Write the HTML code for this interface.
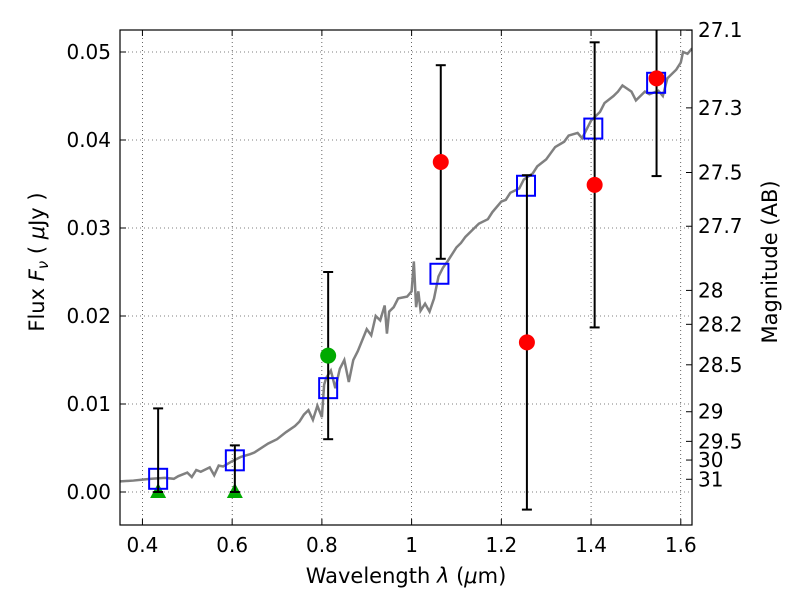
<!DOCTYPE html>
<html><head><meta charset="utf-8"><style>
body{margin:0;background:#fff}
svg{display:block;font-family:"DejaVu Sans","Liberation Sans",sans-serif}
</style></head><body>
<svg id="c" width="800" height="600"><defs><clipPath id="cp"><rect x="120" y="30" width="572" height="495"/></clipPath></defs></svg>
<script>
const specX=[0.35,0.38,0.40,0.42,0.45,0.47,0.48,0.50,0.51,0.52,0.53,0.55,0.56,0.57,0.58,0.60,0.62,0.64,0.65,0.68,0.70,0.72,0.74,0.75,0.76,0.77,0.78,0.79,0.80,0.805,0.81,0.82,0.83,0.84,0.85,0.86,0.87,0.88,0.90,0.91,0.92,0.93,0.94,0.945,0.95,0.96,0.97,0.99,1.00,1.005,1.01,1.015,1.02,1.03,1.04,1.05,1.06,1.07,1.08,1.10,1.11,1.12,1.14,1.15,1.17,1.18,1.20,1.21,1.22,1.24,1.25,1.27,1.28,1.30,1.31,1.32,1.34,1.35,1.37,1.38,1.40,1.42,1.43,1.45,1.46,1.47,1.49,1.50,1.51,1.52,1.53,1.55,1.56,1.57,1.59,1.60,1.605,1.615,1.625];
const specY=[0.0012,0.0013,0.0014,0.0015,0.0016,0.0015,0.0018,0.0022,0.0017,0.0025,0.0023,0.0028,0.0019,0.0030,0.0029,0.0035,0.0040,0.0043,0.0045,0.0055,0.0060,0.0068,0.0075,0.0080,0.0088,0.0093,0.0082,0.0098,0.0085,0.0122,0.0130,0.0138,0.0118,0.0140,0.0150,0.0125,0.0150,0.0160,0.0185,0.0178,0.0200,0.0195,0.0212,0.0180,0.0205,0.0210,0.0220,0.0222,0.0228,0.0262,0.0210,0.0228,0.0206,0.0214,0.0205,0.0220,0.0245,0.0255,0.0262,0.0278,0.0283,0.0290,0.0300,0.0305,0.0310,0.0318,0.0330,0.0332,0.0340,0.0345,0.0355,0.0362,0.0370,0.0378,0.0385,0.0392,0.0398,0.0405,0.0408,0.0402,0.0422,0.0432,0.0442,0.0450,0.0455,0.0462,0.0455,0.0445,0.0450,0.0455,0.0452,0.0456,0.0450,0.0470,0.0480,0.0488,0.0500,0.0498,0.0504];
const modelX=[0.435,0.606,0.814,1.062,1.255,1.405,1.545];
const modelY=[0.0015,0.0036,0.0118,0.0248,0.0348,0.0413,0.0465];
const redX=[1.065,1.257,1.408,1.546];
const redY=[0.0375,0.0170,0.0349,0.0470];
const redErr=[0.0110,0.0190,0.0162,0.0111];
const greenX=[0.814];const greenY=[0.0155];const greenErr=[0.0095];
const limX=[0.435,0.606];const limY=[0.0,0.0];const limTop=[0.0095,0.0053];
const xTicks=[0.4,0.6,0.8,1.0,1.2,1.4,1.6];const xTickLabels=["0.4","0.6","0.8","1","1.2","1.4","1.6"];
const yTicks=[0,0.01,0.02,0.03,0.04,0.05];const yTickLabels=["0.00","0.01","0.02","0.03","0.04","0.05"];
const magTicks=[27.1,27.3,27.5,27.7,28,28.2,28.5,29,29.5,30,31];

const L=120,R=692,T=30,B=525,x0=0.35,x1=1.625,y0=-0.00375,y1=0.0525;
const sx=v=>L+(v-x0)/(x1-x0)*(R-L), sy=v=>B-(v-y0)/(y1-y0)*(B-T);
const svg=document.getElementById('c');const NS='http://www.w3.org/2000/svg';
function mk(t,a,p){const e=document.createElementNS(NS,t);for(const k in a)e.setAttribute(k,a[k]);(p||svg).appendChild(e);return e;}
xTicks.forEach((v,i)=>{const g=mk('line',{x1:sx(v),x2:sx(v),y1:T,y2:B,stroke:'#000','stroke-width':0.6,'stroke-dasharray':'1,3'});

mk('line',{x1:sx(v),x2:sx(v),y1:B,y2:B-6,stroke:'#000'});mk('line',{x1:sx(v),x2:sx(v),y1:T,y2:T+6,stroke:'#000'});
const t=mk('text',{x:sx(v),y:B+27,'text-anchor':'middle','font-size':20});t.textContent=xTickLabels[i];
});
yTicks.forEach((v,i)=>{const g=mk('line',{x1:L,x2:R,y1:sy(v),y2:sy(v),stroke:'#000','stroke-width':0.6,'stroke-dasharray':'1,3'});

mk('line',{x1:L,x2:L+6,y1:sy(v),y2:sy(v),stroke:'#000'});
const t=mk('text',{x:L-9,y:sy(v)+7,'text-anchor':'end','font-size':20});t.textContent=yTickLabels[i];
});
magTicks.forEach(m=>{const f=Math.pow(10,(23.9-m)/2.5);const y=sy(f);
mk('line',{x1:R,x2:R-6,y1:y,y2:y,stroke:'#000'});
const t=mk('text',{x:R+6,y:y+7,'font-size':20});t.textContent=String(m);
});
const G=mk('g',{'clip-path':'url(#cp)'});
const sp=mk('polyline',{points:specX.map((v,i)=>sx(v)+','+sy(specY[i])).join(' '),fill:'none',stroke:'#808080','stroke-width':2.5},G);

function eb(x,lo,hi){mk('line',{x1:sx(x),x2:sx(x),y1:sy(lo),y2:sy(hi),stroke:'#000','stroke-width':2},G);
[lo,hi].forEach(v=>mk('line',{x1:sx(x)-5,x2:sx(x)+5,y1:sy(v),y2:sy(v),stroke:'#000','stroke-width':2},G));}
limX.forEach((v,i)=>{const p=mk('polygon',{points:`${sx(v)},${sy(limY[i])-9} ${sx(v)-8},${sy(limY[i])+6} ${sx(v)+8},${sy(limY[i])+6}`,fill:'#00aa00'},G);
});
modelX.forEach((v,i)=>{const r=mk('rect',{x:sx(v)-9,y:sy(modelY[i])-10,width:18,height:20,fill:'none',stroke:'#0000ff','stroke-width':2},G);
});
limX.forEach((v,i)=>eb(v,limY[i],limTop[i]));
greenX.forEach((v,i)=>{eb(v,greenY[i]-greenErr[i],greenY[i]+greenErr[i]);const c=mk('circle',{cx:sx(v),cy:sy(greenY[i]),r:8,fill:'#00aa00'},G);
});
redX.forEach((v,i)=>{eb(v,redY[i]-redErr[i],redY[i]+redErr[i]);const c=mk('circle',{cx:sx(v),cy:sy(redY[i]),r:8,fill:'#ff0000'},G);
});
const fr=mk('rect',{x:L,y:T,width:R-L,height:B-T,fill:'none',stroke:'#000','stroke-width':1.2});

let t=mk('text',{x:406,y:583,'text-anchor':'middle','font-size':21});t.innerHTML='Wavelength  <tspan font-style="italic">λ</tspan> (<tspan font-style="italic">μ</tspan>m)';

t=mk('text',{x:0,y:0,'text-anchor':'middle','font-size':21,transform:'translate(44,262) rotate(-90)'});t.innerHTML='Flux  <tspan font-style="italic">F</tspan><tspan font-style="italic" font-size="15" dy="4">ν</tspan><tspan dy="-4">  ( </tspan><tspan font-style="italic">μ</tspan>Jy )';

t=mk('text',{x:0,y:0,'text-anchor':'middle','font-size':21,transform:'translate(777,262) rotate(-90)'});t.textContent='Magnitude (AB)';

</script>
</body></html>
